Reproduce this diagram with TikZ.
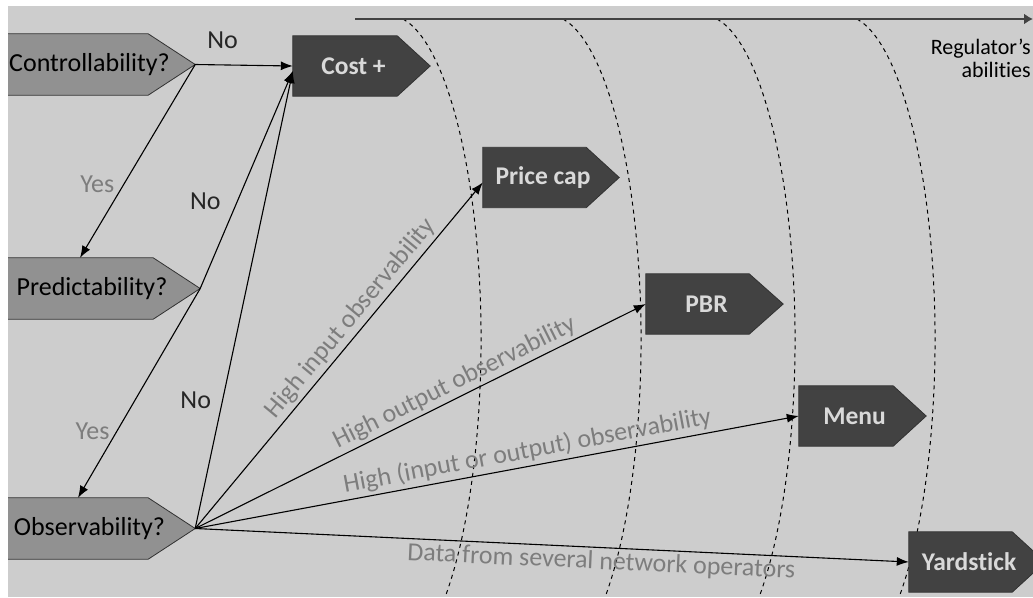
\documentclass[tikz,border=0pt]{standalone}
\usepackage{fontspec}
\setmainfont{Carlito}[Ligatures=NoCommon]
\usetikzlibrary{arrows.meta}
\pgfdeclarelayer{background}
\pgfsetlayers{background,main}
\definecolor{canvasgray}{RGB}{205,205,205}
\definecolor{askgray}{RGB}{145,145,145}
\definecolor{rulegray}{RGB}{66,66,66}
\definecolor{rimgray}{RGB}{50,50,50}
\definecolor{labelgray}{RGB}{125,125,125}
\definecolor{paletext}{RGB}{217,217,217}

\begin{document}
\begin{tikzpicture}[x=1pt,y=-1pt,>={Latex[length=12pt,width=9pt]},
  ask node/.style={rectangle,inner sep=0pt,minimum height=61pt,
    font=\fontsize{26}{30}\selectfont,execute at end node={\hspace*{16pt}}},
  rule node/.style={rectangle,inner sep=0pt,minimum height=60pt,text=paletext,
    font=\fontsize{25.5}{30}\selectfont\bfseries,execute at end node={\hspace*{16pt}}},
  ask shape/.style={fill=askgray,draw=rimgray,line width=0.8pt},
  rule shape/.style={fill=rulegray,draw=rimgray,line width=0.8pt},
  link/.style={->,line width=1.1pt,black},
  choice label/.style={font=\fontsize{26}{30}\selectfont,text=black!85,inner sep=3pt},
  yes label/.style={font=\fontsize{26}{30}\selectfont,text=labelgray,inner sep=3pt},
  way label/.style={font=\fontsize{26}{30}\selectfont,text=labelgray,inner sep=3pt,sloped},
  border arc/.style={dashed,dash pattern=on 4pt off 4pt,line width=1pt,black}]

 \useasboundingbox (0,0) rectangle (1033,597);

 % questions
 \node[ask node,minimum width=195pt] (ctrl) at (97.5,64.5) {Controllability?};
 \node[ask node,minimum width=200pt] (pred) at (100,288.5) {Predictability?};
 \node[ask node,minimum width=195pt] (obs) at (97.5,528.5) {Observability?};

 % regulation schemes
 \node[rule node,minimum width=137pt] (cost) at (361.5,66) {Cost +};
 \node[rule node,minimum width=136pt] (price) at (551,177.5) {Price cap};
 \node[rule node,minimum width=137pt] (pbr) at (714.5,304) {PBR};
 \node[rule node,minimum width=127pt] (menu) at (862.5,416) {Menu};
 \node[rule node,minimum width=136pt] (yard) at (977,562) {Yardstick};

 \node[font=\fontsize{22}{23}\selectfont,align=right,anchor=east,inner sep=0pt] (reg) at (1031,58) {Regulator’s\\abilities};
 \coordinate (axis start) at (355,19);
 \coordinate (axis end) at (1033,19);

 \begin{pgfonlayer}{background}
  \fill[white] (0,0) rectangle (1033,597);
  \fill[canvasgray] (8,6) rectangle (1033,597);
  \clip (8,6) rectangle (1033,597);
  \foreach \t in {403,563,717,857}
    \draw[border arc] (\t,19) arc[start angle=-81,end angle=52.3,x radius=92.5,y radius=325];
  \draw[line width=2.6pt,rulegray,-{Latex[length=9pt,width=11pt]}] (axis start) -- (axis end);
  \foreach \n/\p in {ctrl/47,pred/47,obs/47}
    \draw[ask shape] (\n.north west) -- ([xshift=-\p pt]\n.north east) -- (\n.east)
      -- ([xshift=-\p pt]\n.south east) -- (\n.south west) -- cycle;
  \foreach \n/\p in {cost/33,price/33,pbr/34,menu/33,yard/33}
    \draw[rule shape] (\n.north west) -- ([xshift=-\p pt]\n.north east) -- (\n.east)
      -- ([xshift=-\p pt]\n.south east) -- (\n.south west) -- cycle;
 \end{pgfonlayer}

 \path[link]
    (ctrl.east) edge node[choice label,above=13pt,pos=.28] {No} (cost.west)
    (ctrl.east) edge node[yes label,left=6pt,pos=.62] {Yes} ([xshift=-20pt]pred.north)
    (pred.east) edge node[choice label,left=13pt,pos=.40] {No} ([yshift=-5pt]cost.west)
    (pred.east) edge node[yes label,left=4pt,pos=.68] {Yes} ([xshift=-19.5pt]obs.north)
    (obs.east)  edge node[choice label,left=8pt,pos=.28] {No} ([yshift=-5pt]cost.west)
    (obs.east)  edge node[way label,above,pos=.58] {High input observability} ([yshift=-5pt]price.west)
    (obs.east)  edge node[way label,above,pos=.59] {High output observability} (pbr.west)
    (obs.east)  edge node[way label,above,pos=.555] {High (input or output) observability} (menu.west)
    (obs.east)  edge node[way label,below,pos=.57] {Data from several network operators} (yard.west);

\end{tikzpicture}
\end{document}
